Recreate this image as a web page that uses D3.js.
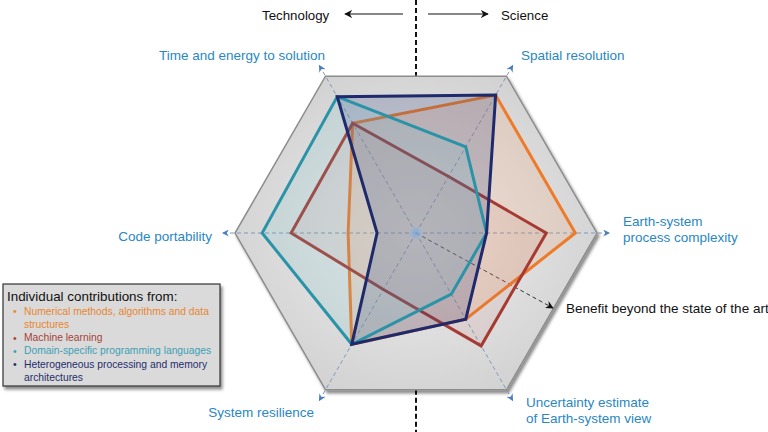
<!DOCTYPE html>
<html>
<head>
<meta charset="utf-8">
<script src="https://cdn.jsdelivr.net/npm/d3@7"></script>
<style>
  html, body { margin: 0; padding: 0; background: #fff; }
  svg { display: block; font-family: "Liberation Sans", Arial, sans-serif; }
</style>
</head>
<body>
<div id="chart"></div>
<script>
// axes, counter-clockwise from the right
const axes = [
    ['Earth-system', 'process complexity'],
    ['Spatial resolution'],
    ['Time and energy to solution'],
    ['Code portability'],
    ['System resilience'],
    ['Uncertainty estimate', 'of Earth-system view']
];

// values as a fraction of the outer hexagon
const numerical = [0.88, 0.88, 0.70, 0.375, 0.71, 0.55];
const machineLearning = [0.72, 0.36, 0.70, 0.69, 0.36, 0.72];
const domainSpecific = [0.39, 0.55, 0.87, 0.85, 0.71, 0.39];
const heterogeneous = [0.39, 0.88, 0.87, 0.215, 0.71, 0.55];

const legendTitle = 'Individual contributions from:';
const legendItems = [
    ['Numerical methods, algorithms and data', 'structures'],
    ['Machine learning'],
    ['Domain-specific programming languages'],
    ['Heterogeneous processing and memory', 'architectures']
];

const series = [
    { key: 'num', values: numerical, stroke: '#ee7b2a', fill: '#f49a5c', op: 0.18 },
    { key: 'ml', values: machineLearning, stroke: '#a63a33', fill: '#c4605a', op: 0.10 },
    { key: 'dsl', values: domainSpecific, stroke: '#2a93a8', fill: '#6cc0cf', op: 0.16 },
    { key: 'het', values: heterogeneous, stroke: '#1e2a6c', fill: '#34407e', op: 0.22 }
];
const legendColors = ['#e8862f', '#a8423b', '#3d9fb5', '#1f2d6d'];

const width = 768, height = 432;
const cx = 416, cy = 233, R = 181;

const svg = d3.select('#chart').append('svg')
    .attr('width', width)
    .attr('height', height);

const defs = svg.append('defs');

const grad = defs.append('radialGradient').attr('id', 'hexFill')
    .attr('cx', '50%').attr('cy', '50%').attr('r', '55%');
grad.append('stop').attr('offset', '0%').attr('stop-color', '#efefef');
grad.append('stop').attr('offset', '100%').attr('stop-color', '#d2d2d2');

const shadow = defs.append('filter').attr('id', 'shadow')
    .attr('x', '-10%').attr('y', '-10%').attr('width', '125%').attr('height', '125%');
shadow.append('feDropShadow').attr('dx', 2).attr('dy', 3).attr('stdDeviation', 1.6)
    .attr('flood-color', '#000').attr('flood-opacity', 0.45);

defs.append('marker')
    .attr('id', 'blueHead')
    .attr('viewBox', '0 -5 10 10')
    .attr('refX', 8).attr('refY', 0)
    .attr('markerWidth', 7).attr('markerHeight', 7)
    .attr('markerUnits', 'userSpaceOnUse')
    .attr('orient', 'auto')
    .append('path').attr('d', 'M0,-5L10,0L0,5L3,0Z').attr('fill', '#4b7dbd');

defs.append('marker')
    .attr('id', 'blackHead')
    .attr('viewBox', '0 -5 10 10')
    .attr('refX', 9).attr('refY', 0)
    .attr('markerWidth', 8).attr('markerHeight', 8)
    .attr('markerUnits', 'userSpaceOnUse')
    .attr('orient', 'auto')
    .append('path').attr('d', 'M0,-5L10,0L0,5L3,0Z').attr('fill', '#111');

const r = d3.scaleLinear().domain([0, 1]).range([0, R]);
const angle = i => i * Math.PI / 3;
const px = (i, v) => cx + r(v) * Math.cos(angle(i));
const py = (i, v) => cy - r(v) * Math.sin(angle(i));

const line = d3.line().x(d => d[0]).y(d => d[1]);
const ring = vals => line(vals.map((v, i) => [px(i, v), py(i, v)])) + 'Z';

// vertical divider
svg.append('g')
    .attr('stroke', '#111').attr('stroke-width', 2).attr('stroke-dasharray', '5,3')
    .selectAll('line')
    .data([[0, py(1, 1)], [py(4, 1), height]])
    .join('line')
    .attr('x1', cx).attr('x2', cx)
    .attr('y1', d => d[0]).attr('y2', d => d[1]);

// outer hexagon
svg.append('path')
    .attr('d', ring(axes.map(() => 1)))
    .attr('fill', 'url(#hexFill)')
    .attr('stroke', '#8c8c8c')
    .attr('stroke-width', 1.5)
    .attr('filter', 'url(#shadow)');

// axis spokes
svg.append('g')
    .selectAll('line')
    .data(axes)
    .join('line')
    .attr('x1', cx).attr('y1', cy)
    .attr('x2', (d, i) => px(i, 1.065))
    .attr('y2', (d, i) => py(i, 1.065))
    .attr('stroke', '#7f98bd')
    .attr('stroke-width', 1)
    .attr('stroke-dasharray', '4,3')
    .attr('marker-end', 'url(#blueHead)');

// benefit arrow
svg.append('line')
    .attr('x1', cx).attr('y1', cy)
    .attr('x2', 553).attr('y2', 308)
    .attr('stroke', '#333').attr('stroke-width', 1)
    .attr('stroke-dasharray', '4,3')
    .attr('marker-end', 'url(#blackHead)');

// series polygons: orange and red first, then navy fill, teal, navy outline
const polys = svg.append('g');
function drawFill(s) {
    polys.append('path').attr('d', ring(s.values))
        .attr('fill', s.fill).attr('fill-opacity', s.op).attr('stroke', 'none');
}
function drawStroke(s) {
    polys.append('path').attr('d', ring(s.values))
        .attr('fill', 'none').attr('stroke', s.stroke)
        .attr('stroke-width', 3).attr('stroke-linejoin', 'miter');
}
drawFill(series[0]); drawStroke(series[0]);
drawFill(series[1]); drawStroke(series[1]);
drawFill(series[3]);
drawFill(series[2]); drawStroke(series[2]);
drawStroke(series[3]);

// centre dot
svg.append('circle').attr('cx', cx).attr('cy', cy).attr('r', 5)
    .attr('fill', '#8db4e0').attr('fill-opacity', 0.6)
    .attr('stroke', '#8db4e0').attr('stroke-width', 1);

// axis labels
const labelPos = [
    { x: 623, y: 221, anchor: 'start' },
    { x: 521, y: 55, anchor: 'start' },
    { x: 325, y: 55, anchor: 'end' },
    { x: 212, y: 236, anchor: 'end' },
    { x: 314, y: 412, anchor: 'end' },
    { x: 526, y: 402, anchor: 'start' }
];
svg.append('g')
    .selectAll('text')
    .data(axes)
    .join('text')
    .attr('x', (d, i) => labelPos[i].x)
    .attr('y', (d, i) => labelPos[i].y)
    .attr('text-anchor', (d, i) => labelPos[i].anchor)
    .attr('dominant-baseline', 'central')
    .attr('font-size', 13.5)
    .attr('fill', '#2a87c2')
    .each(function (d, i) {
        d3.select(this).selectAll('tspan')
            .data(d)
            .join('tspan')
            .attr('x', labelPos[i].x)
            .attr('dy', (t, j) => j === 0 ? 0 : 16)
            .text(t => t);
    });

svg.append('text')
    .attr('x', 566).attr('y', 308)
    .attr('dominant-baseline', 'central')
    .attr('font-size', 13.5).attr('fill', '#111')
    .text('Benefit beyond the state of the art');

// top header
svg.append('text').attr('x', 262).attr('y', 15)
    .attr('dominant-baseline', 'central').attr('font-size', 13.3).attr('fill', '#111')
    .text('Technology');
svg.append('text').attr('x', 501).attr('y', 15)
    .attr('dominant-baseline', 'central').attr('font-size', 13.3).attr('fill', '#111')
    .text('Science');
svg.append('g')
    .attr('stroke', '#111').attr('stroke-width', 1)
    .selectAll('line')
    .data([[403, 345], [428, 488]])
    .join('line')
    .attr('x1', d => d[0]).attr('x2', d => d[1])
    .attr('y1', 14).attr('y2', 14)
    .attr('marker-end', 'url(#blackHead)');

// legend
const legend = svg.append('g');
legend.append('rect')
    .attr('x', 3).attr('y', 284).attr('width', 217).attr('height', 102)
    .attr('fill', '#dadada').attr('stroke', '#333').attr('stroke-width', 1.2)
    .attr('filter', 'url(#shadow)');
legend.append('text')
    .attr('x', 7).attr('y', 296)
    .attr('dominant-baseline', 'central')
    .attr('font-size', 13.4).attr('fill', '#111')
    .text(legendTitle);

let yy = 311;
legendItems.forEach((item, k) => {
    legend.append('text')
        .attr('x', 13).attr('y', yy)
        .attr('dominant-baseline', 'central')
        .attr('font-size', 10.5).attr('fill', legendColors[k])
        .text('•');
    item.forEach((t, j) => {
        legend.append('text')
            .attr('x', 24).attr('y', yy)
            .attr('dominant-baseline', 'central')
            .attr('font-size', 10.3).attr('fill', legendColors[k])
            .text(t);
        yy += 13.3;
    });
});
</script>
</body>
</html>
